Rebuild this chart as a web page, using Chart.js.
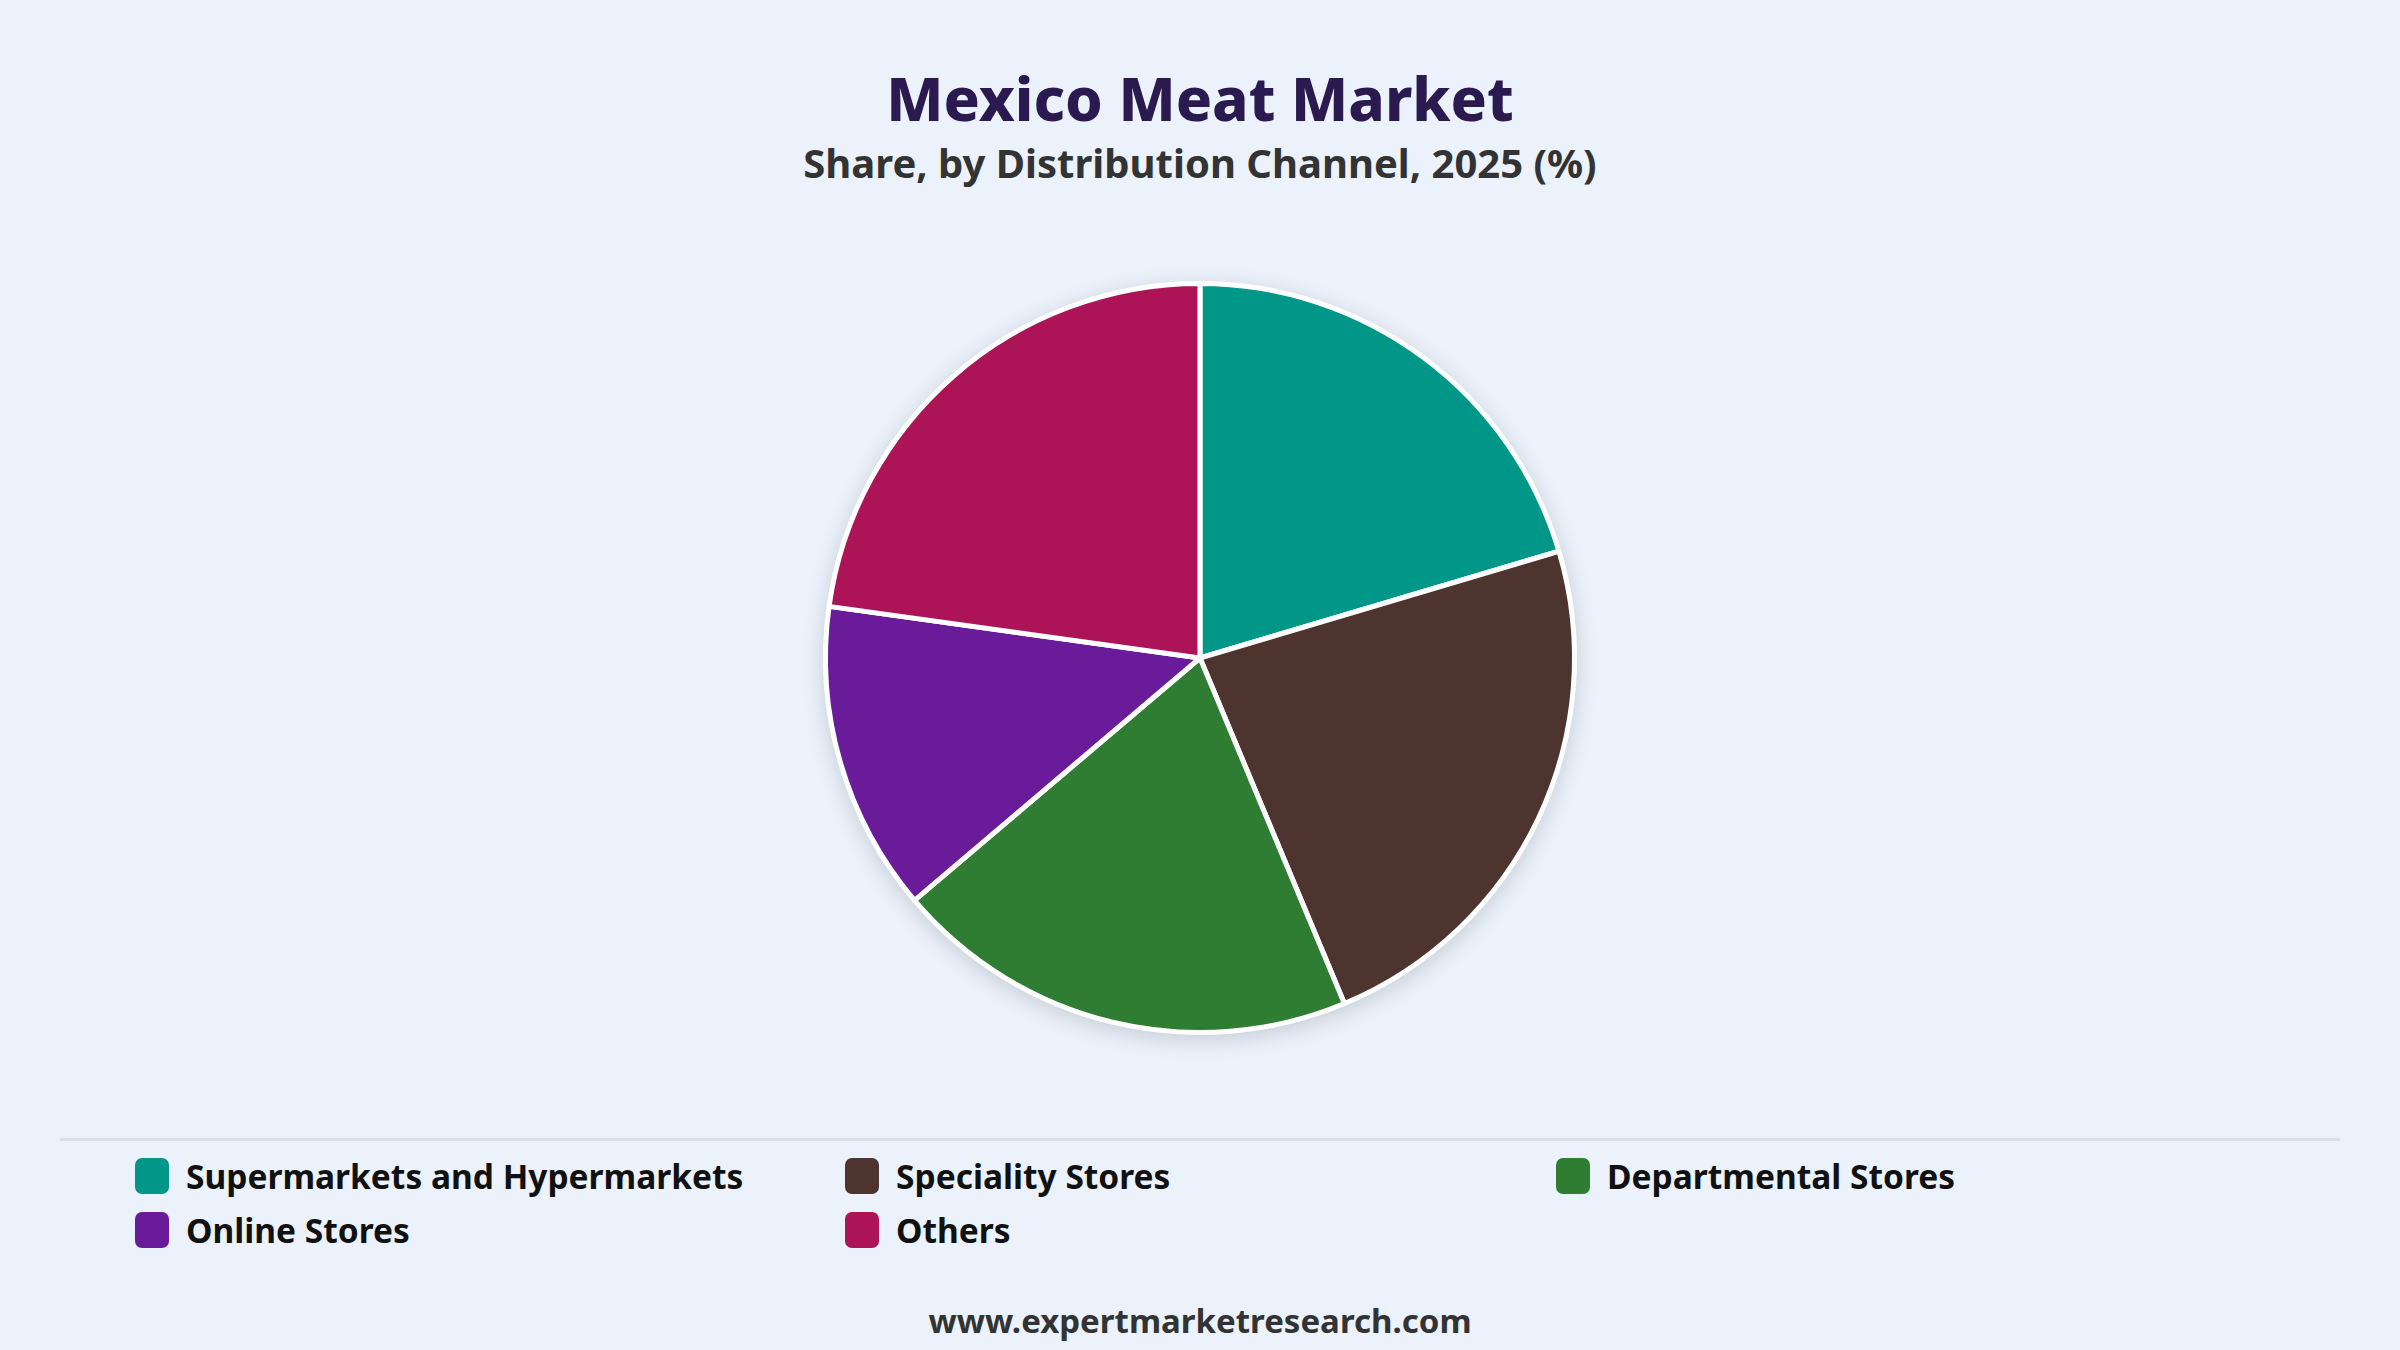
<!DOCTYPE html>
<html>
<head>
<meta charset="utf-8">
<title>Mexico Meat Market</title>
<script src="https://cdn.jsdelivr.net/npm/chart.js@4.4.1/dist/chart.umd.min.js"></script>
<style>
    html, body { margin: 0; padding: 0; }
    body {
        width: 2400px;
        height: 1350px;
        background: #ebf2fc;
        font-family: "Noto Sans", "Open Sans", sans-serif;
        position: relative;
        overflow: hidden;
    }
    .title {
        position: absolute; left: 0; width: 2400px; top: 58px;
        text-align: center; font-size: 60px; font-weight: 800;
        color: #2b1a4f; line-height: 80px;
    }
    .subtitle {
        position: absolute; left: 0; width: 2400px; top: 136px;
        text-align: center; font-size: 40px; font-weight: 700;
        color: #333333; line-height: 54px;
    }
    #chartWrap {
        position: absolute; left: 0; top: 238px; width: 2400px; height: 840px;
    }
    .divider {
        position: absolute; left: 60px; width: 2280px; top: 1138px; height: 3px;
        background: #dcdfe4;
    }
    .legend-item {
        position: absolute; display: flex; align-items: center; height: 44px;
        font-size: 33.5px; font-weight: 700; color: #111111;
    }
    .legend-box {
        width: 34px; height: 36px; border-radius: 7px; margin-right: 17px;
    }
    .footer {
        position: absolute; left: 0; width: 2400px; top: 1298px;
        text-align: center; font-size: 33px; font-weight: 700; color: #333333;
        line-height: 46px;
    }
</style>
</head>
<body>
<div class="title">Mexico Meat Market</div>
<div class="subtitle">Share, by Distribution Channel, 2025 (%)</div>
<div id="chartWrap"><canvas id="pieChart"></canvas></div>
<div class="divider"></div>
<div id="legend"></div>
<div class="footer">www.expertmarketresearch.com</div>

<script>
// Distribution channel shares, 2025 (%)
const channels = ["Supermarkets and Hypermarkets", "Speciality Stores", "Departmental Stores", "Online Stores", "Others"];
const shares = [20.4, 23.3, 20.1, 13.4, 22.8];
const sliceColors = ["#009688", "#4e342e", "#2e7d32", "#6a1b9a", "#ad1457"];

// soft shadow behind the whole pie (drawn once, not per slice)
const pieShadow = {
    id: "pieShadow",
    beforeDatasetsDraw(chart) {
        const arc = chart.getDatasetMeta(0).data[0];
        if (!arc) return;
        const ctx = chart.ctx;
        ctx.save();
        ctx.shadowColor = "rgba(0, 0, 0, 0.16)";
        ctx.shadowBlur = 22;
        ctx.shadowOffsetY = 5;
        ctx.fillStyle = "#ffffff";
        ctx.beginPath();
        ctx.arc(arc.x, arc.y, arc.outerRadius + 2, 0, Math.PI * 2);
        ctx.fill();
        ctx.restore();
    }
};

new Chart(document.getElementById("pieChart"), {
    type: "pie",
    data: {
        labels: channels,
        datasets: [{
            data: shares,
            backgroundColor: sliceColors,
            borderColor: "#ffffff",
            borderWidth: 5
        }]
    },
    options: {
        responsive: true,
        maintainAspectRatio: false,
        animation: false,
        layout: { padding: 43 },
        plugins: {
            legend: { display: false },
            tooltip: { enabled: false }
        }
    },
    plugins: [pieShadow]
});

// HTML legend in a fixed three column grid
const legendCols = [135, 845, 1556];
const legendRows = [1154, 1208];
const legendDiv = document.getElementById("legend");
channels.forEach((name, i) => {
    const item = document.createElement("div");
    item.className = "legend-item";
    item.style.left = legendCols[i % 3] + "px";
    item.style.top = legendRows[Math.floor(i / 3)] + "px";
    item.innerHTML = `<div class="legend-box" style="background:${sliceColors[i]}"></div><span>${name}</span>`;
    legendDiv.appendChild(item);
});
</script>
</body>
</html>
